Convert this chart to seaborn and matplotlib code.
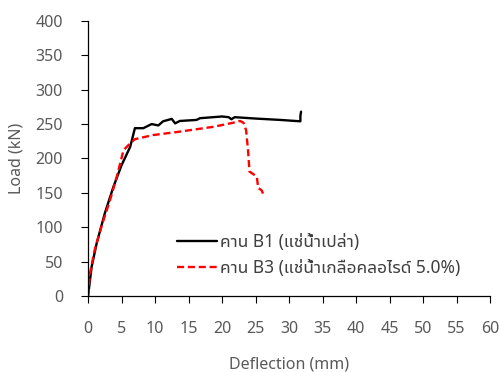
import matplotlib
matplotlib.use("Agg")
import matplotlib.pyplot as plt
import seaborn as sns
import pandas as pd

# Beam B1 (plain water soak)
b1_defl = [0, 0.55, 1.3, 2.5, 3.8, 5.0, 6.3, 7.0, 8.25, 9.5, 10.5, 11.2, 12.5, 13.0, 13.7,
           16.2, 16.7, 20.0, 21.0, 21.4, 21.9, 25.0, 28.7, 31.7, 31.7, 31.8]
b1_load = [0, 43, 77, 120, 159, 190, 217, 244, 244, 250, 248, 254, 257.5, 251, 254.5,
           256, 258.5, 261, 260, 257, 260, 258, 256, 254, 262, 268]

# Beam B3 (chloride 5.0% soak)
b3_defl = [0, 0.3, 1.0, 2.0, 3.3, 4.3, 5.3, 6.3, 7.0, 9.7, 13.7, 18.7, 21.7, 22.7, 23.2,
           23.6, 23.9, 24.1, 24.7, 25.2, 25.4, 25.9, 26.2]
b3_load = [0, 33, 67, 101, 140, 173.5, 212, 222, 228, 234, 239, 246, 252, 254.5, 252,
           241, 210, 181, 177, 173.5, 157, 154, 147]

labels = ["คาน B1 (แช่น้ำเปล่า)", "คาน B3 (แช่น้ำเกลือคลอไรด์ 5.0%)"]
x_ticks = list(range(0, 61, 5))
y_ticks = list(range(0, 401, 50))

sns.set_theme(style="ticks")
fam = ["Noto Sans", "Noto Sans Thai UI", "Noto Sans Thai", "DejaVu Sans"]
plt.rcParams["font.family"] = fam

df1 = pd.DataFrame({"d": b1_defl, "p": b1_load})
df3 = pd.DataFrame({"d": b3_defl, "p": b3_load})

fig = plt.figure(figsize=(5, 3.72), dpi=100)
ax = fig.add_axes([0.176, 0.204, 0.804, 0.74])

sns.lineplot(data=df1, x="d", y="p", ax=ax, color="black", lw=1.7, sort=False,
             estimator=None, label=labels[0])
sns.lineplot(data=df3, x="d", y="p", ax=ax, color="#ff0000", lw=1.7, sort=False,
             estimator=None, label=labels[1], linestyle=(0, (3, 1.6)))

ax.set_xlim(0, 60)
ax.set_ylim(0, 400)
ax.set_xticks(x_ticks)
ax.set_yticks(y_ticks)
tc = "#595959"
ax.tick_params(axis="both", direction="out", length=5, width=0.8, colors="black",
               labelcolor=tc, labelsize=11.5, pad=13)
ax.set_xlabel("Deflection (mm)", fontsize=11.5, color=tc, labelpad=14)
ax.set_ylabel("Load (kN)", fontsize=11.5, color=tc, labelpad=8)
for s in ["top", "right"]:
    ax.spines[s].set_visible(False)
for s in ["left", "bottom"]:
    ax.spines[s].set_color("black")
    ax.spines[s].set_linewidth(0.9)

leg = ax.legend(loc="upper left", bbox_to_anchor=(0.222, 0.23), frameon=False,
                fontsize=12.5, handlelength=2.3, handletextpad=0.17, labelspacing=0.5,
                borderaxespad=0, borderpad=0)
for t in leg.get_texts():
    t.set_color("#404040")

fig.savefig("out.png", dpi=100)
